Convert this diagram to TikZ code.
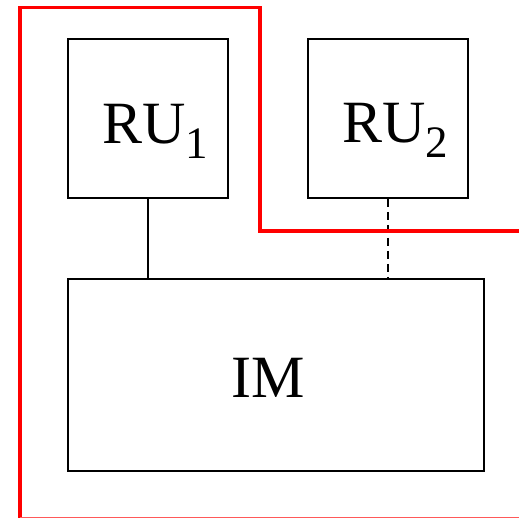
\documentclass[tikz,border=0pt]{standalone}
\usepackage{fontspec}
\setmainfont{Liberation Serif}
\begin{document}
\begin{tikzpicture}[x=1pt,y=-1pt,
  unit/.style={draw=black,line width=2pt,inner sep=0pt},
  lbl/.style={inner sep=0pt,anchor=base west,font=\fontsize{60}{60}\selectfont},
  link/.style={draw=black,line width=2pt},
  border/.style={draw=red,line width=3.5pt}]
\useasboundingbox (0,0) rectangle (519,518);
\newcommand{\sub}[1]{\raisebox{-15pt}{\fontsize{45}{45}\selectfont #1}}
% boxes
\node[unit,minimum width=160pt,minimum height=159pt] (ru1) at (148,118.5) {};
\node[unit,minimum width=160pt,minimum height=159pt] (ru2) at (388,118.5) {};
\node[unit,minimum width=416pt,minimum height=192pt] (im) at (276,375) {};
% labels
\node[lbl] (t1) at (102,143.5) {RU\sub{1}};
\node[lbl] (t2) at (342,143) {RU\sub{2}};
\node[lbl] (t3) at (231,397.5) {IM};
% connections
\draw[link] (ru1.south) -- (ru1.south |- im.north);
\draw[link,dash pattern=on 8pt off 5pt] (ru2.south) -- (ru2.south |- im.north);
% boundary
\coordinate (p0) at (20,518);
\coordinate (p1) at (20,7.5);
\coordinate (p2) at (260,7.5);
\coordinate (p3) at (260,231);
\coordinate (p4) at (519,231);
\draw[border,line join=miter] (p0) -- (p1) -- (p2) -- (p3) -- (p4);
\coordinate (q0) at (20,517.5);
\coordinate (q1) at (519,517.5);
\draw[draw=red!65,line width=1pt] (q0) -- (q1);
\end{tikzpicture}
\end{document}
